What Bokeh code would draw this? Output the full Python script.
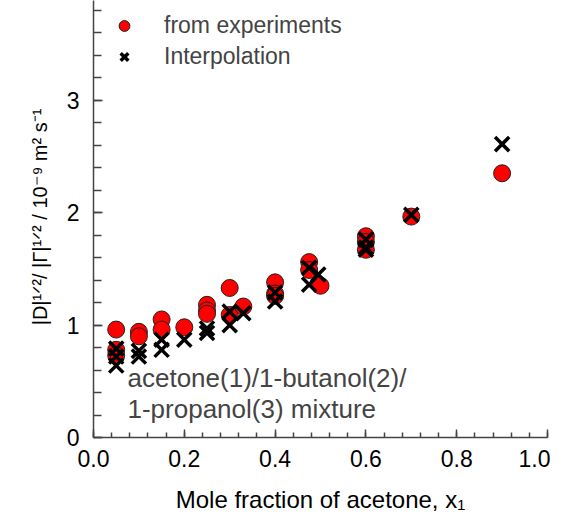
from bokeh.plotting import figure
from bokeh.models import Range1d, Legend, LegendItem, Label, SingleIntervalTicker, NumeralTickFormatter
from bokeh.embed import file_html
from bokeh.resources import INLINE

# Experimental data (red circles)
exp_x = [0.05, 0.05, 0.05, 0.10, 0.10, 0.15, 0.15, 0.20, 0.25, 0.25, 0.25,
         0.30, 0.30, 0.33, 0.40, 0.40, 0.40, 0.475, 0.475, 0.50, 0.60, 0.60, 0.60, 0.70, 0.90]
exp_y = [0.96, 0.78, 0.73, 0.94, 0.90, 1.05, 0.96, 0.98, 1.18, 1.13, 1.10,
         1.33, 1.09, 1.165, 1.38, 1.28, 1.26, 1.56, 1.49, 1.35, 1.79, 1.74, 1.67, 1.965, 2.35]

# Interpolation (black crosses)
int_x = [0.05, 0.05, 0.05, 0.10, 0.10, 0.15, 0.15, 0.20, 0.25, 0.25,
         0.30, 0.30, 0.33, 0.40, 0.40, 0.475, 0.475, 0.495, 0.60, 0.60, 0.60, 0.70, 0.90]
int_y = [0.79, 0.72, 0.64, 0.77, 0.72, 0.87, 0.78, 0.87, 0.97, 0.93,
         1.00, 1.12, 1.105, 1.29, 1.21, 1.51, 1.36, 1.45, 1.76, 1.69, 1.67, 1.98, 2.61]

x_title = "Mole fraction of acetone, x\u2081"
y_title = "|D|\u00b9\u141f\u00b2/ |\u0393|\u00b9\u141f\u00b2 / 10\u207b\u2079 m\u00b2 s\u207b\u00b9"
note_lines = ["acetone(1)/1-butanol(2)/", "1-propanol(3) mixture"]

FONT = "Liberation Sans"
AXC = "#444444"

p = figure(width=550, height=515, output_backend="svg", toolbar_location=None,
           x_range=Range1d(0, 1.0), y_range=Range1d(0, 3.887),
           min_border_left=93, min_border_right=3, min_border_top=0, min_border_bottom=77)
p.outline_line_color = None
p.xgrid.visible = False
p.ygrid.visible = False

r1 = p.scatter(exp_x, exp_y, marker="circle", size=17, fill_color="#ff0000",
               line_color="#222222", line_width=1)
r2 = p.scatter(int_x, int_y, marker="x", size=20, line_color="black", line_width=3.5)

for ax in (p.xaxis[0], p.yaxis[0]):
    ax.axis_line_color = AXC
    ax.axis_line_width = 1.5
    ax.major_tick_out = 0
    ax.minor_tick_out = 0
    ax.major_tick_line_color = AXC
    ax.minor_tick_line_color = AXC
    ax.major_tick_line_width = 1.5
    ax.minor_tick_line_width = 1.5
    ax.major_label_text_font = FONT
    ax.major_label_text_font_size = "23px"
    ax.major_label_text_color = "black"
    ax.axis_label_text_font = FONT
    ax.axis_label_text_font_style = "normal"
    ax.axis_label_text_color = "black"

p.xaxis.major_tick_in = 8
p.xaxis.minor_tick_in = 5
p.yaxis.major_tick_in = 9
p.yaxis.minor_tick_in = 8
p.xaxis.ticker = SingleIntervalTicker(interval=0.2, num_minor_ticks=5)
p.xaxis.formatter = NumeralTickFormatter(format="0.0")
p.yaxis.ticker = SingleIntervalTicker(interval=1, num_minor_ticks=5)
p.xaxis.major_label_standoff = 12
p.yaxis.major_label_standoff = 14

p.xaxis.axis_label = x_title
p.xaxis.axis_label_text_font_size = "24px"
p.xaxis.axis_label_standoff = 16
p.yaxis.axis_label = y_title
p.yaxis.axis_label_text_font_size = "20px"
p.yaxis.axis_label_standoff = 13

# ---- legend ----
legend = Legend(items=[LegendItem(label="from experiments", renderers=[r1]),
                       LegendItem(label="Interpolation", renderers=[r2])],
                location="top_left")
legend.border_line_color = None
legend.background_fill_alpha = 0
legend.label_text_font = FONT
legend.label_text_font_size = "23px"
legend.glyph_width = 38
legend.glyph_height = 27
legend.label_height = 27
legend.label_standoff = 21
legend.spacing = 4
legend.padding = 0
legend.margin = 12
p.add_layout(legend)

# ---- annotation ----
p.add_layout(Label(x=34, y=60, x_units="screen", y_units="screen",
                   text=note_lines[0], text_font=FONT,
                   text_font_size="26px", text_baseline="alphabetic"))
p.add_layout(Label(x=34, y=29, x_units="screen", y_units="screen",
                   text=note_lines[1], text_font=FONT,
                   text_font_size="26px", text_baseline="alphabetic"))

open("out.html", "w").write(file_html(p, INLINE))
